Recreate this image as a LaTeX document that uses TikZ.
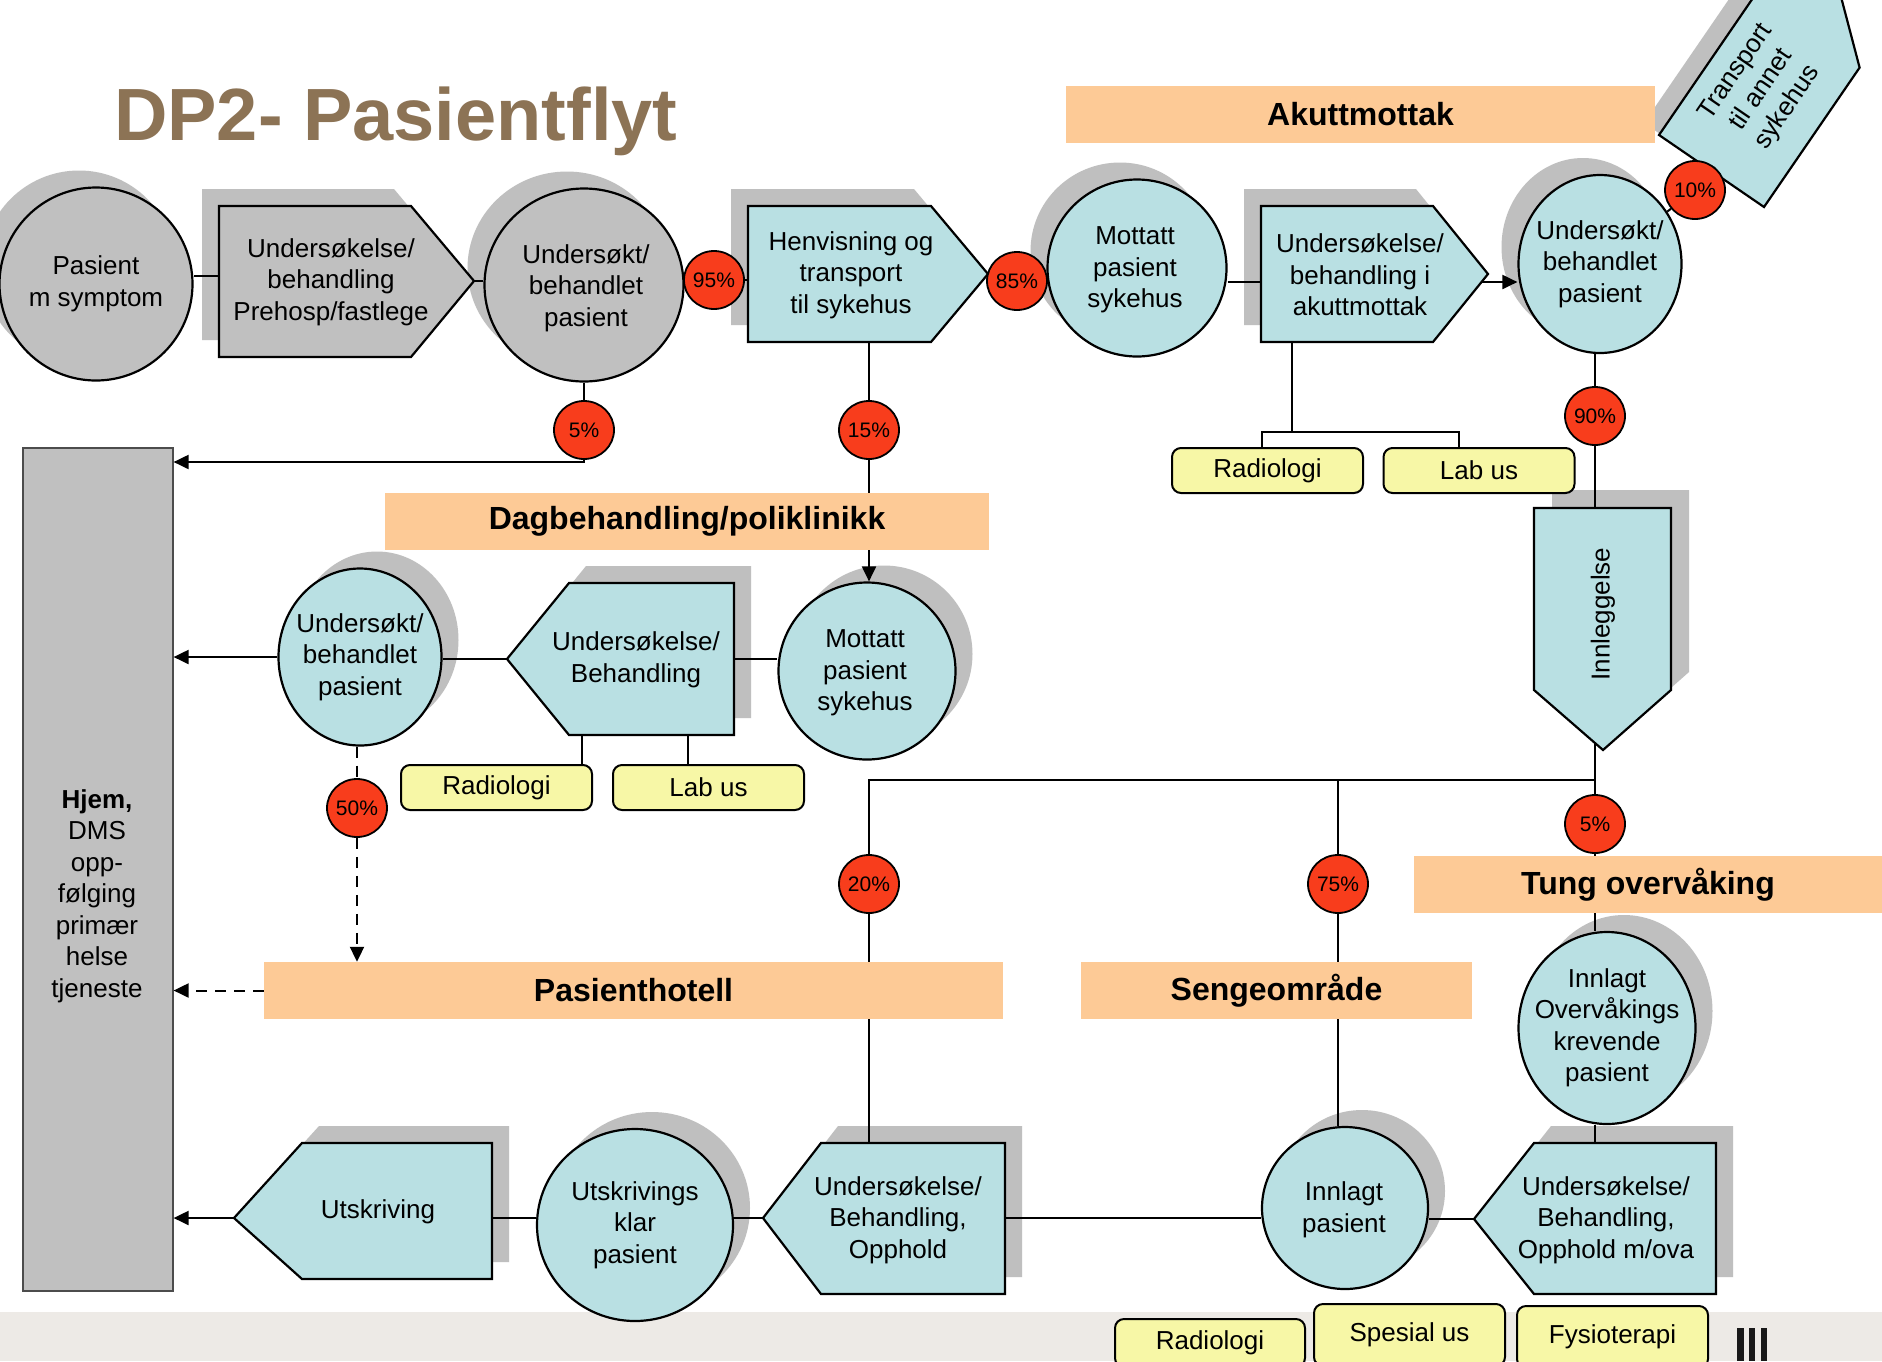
\documentclass[tikz,border=0pt]{standalone}
\usepackage{fontspec}
\setmainfont{Liberation Sans}
\usetikzlibrary{shapes.geometric,shadows,arrows.meta}
\pgfdeclarelayer{back}
\pgfdeclarelayer{front}
\pgfsetlayers{back,main,front}

\definecolor{shgrey}{HTML}{BFBFBF}
\definecolor{boxgrey}{HTML}{C0C0C0}
\definecolor{paleblue}{HTML}{B9E0E3}
\definecolor{banner}{HTML}{FDCA96}
\definecolor{pctred}{HTML}{F83D1C}
\definecolor{labyellow}{HTML}{F7F7A6}
\definecolor{titlebrown}{HTML}{8C7355}
\definecolor{footer}{HTML}{EDEAE6}

\newcommand\bodyfnt{\fontsize{26}{31.5}\selectfont}

\begin{document}
\begin{tikzpicture}[x=1pt,y=-1pt,
  conn/.style={line width=2pt, draw=black},
  arr/.style={-{Triangle[length=15pt,width=14pt]}},
  dsh/.style={dash pattern=on 11pt off 8pt},
  outl/.style={draw=black, line width=2.2pt, line join=miter},
  shUL/.style={general shadow={fill=shgrey, shadow xshift=-17pt, shadow yshift=17pt}},
  shUR/.style={general shadow={fill=shgrey, shadow xshift=17pt, shadow yshift=17pt}},
  bub/.style={ellipse, outl, inner sep=0pt},
  lbl/.style={align=center, font=\bodyfnt, inner sep=0pt},
  pct/.style={ellipse, draw=black, line width=1.8pt, fill=pctred, minimum width=60pt,
    minimum height=58pt, inner sep=0pt, font=\fontsize{21}{24}\selectfont},
  band/.style={rectangle, fill=banner, minimum height=57pt, inner sep=0pt,
    font=\fontsize{32}{38}\selectfont\bfseries},
  lab/.style={rectangle, rounded corners=9pt, draw=black, line width=2pt, fill=labyellow,
    minimum width=191pt, inner sep=0pt, font=\bodyfnt},
]
\useasboundingbox (0,0) rectangle (1882,1361);

\begin{pgfonlayer}{back}
  \fill[white] (0,0) rectangle (1882,1361);
  \fill[footer] (0,1312) rectangle (1882,1361);
  \fill[black!90] (1737,1328) rectangle (1744,1361);
  \fill[black!90] (1749,1328) rectangle (1755,1361);
  \fill[black!90] (1761,1328) rectangle (1767,1361);

  % home / primary care column
  \node[rectangle, fill=boxgrey, draw=black!70, line width=1.2pt, minimum width=150pt,
        minimum height=843pt, inner sep=0pt] (hjem) at (98,869.5) {};

  % states (ellipses)
  \node[bub, fill=boxgrey, shUL, minimum width=193pt, minimum height=193pt] (pas) at (96,284) {};
  \node[bub, fill=boxgrey, shUL, minimum width=199pt, minimum height=193pt] (u1) at (584,285) {};
  \node[bub, fill=paleblue, shUL, minimum width=179pt, minimum height=177pt] (mt) at (1137,268) {};
  \node[bub, fill=paleblue, shUL, minimum width=163pt, minimum height=178pt] (u3) at (1600,264) {};
  \node[bub, fill=paleblue, shUR, minimum width=163pt, minimum height=177pt] (du) at (360,657) {};
  \node[bub, fill=paleblue, shUR, minimum width=177pt, minimum height=177pt] (dm) at (867,671) {};
  \node[bub, fill=paleblue, shUR, minimum width=177pt, minimum height=192pt] (tov) at (1607,1028) {};
  \node[bub, fill=paleblue, shUR, minimum width=166pt, minimum height=162pt] (ip) at (1345,1208) {};
  \node[bub, fill=paleblue, shUR, minimum width=196pt, minimum height=192pt] (uk) at (635,1225) {};

  % activities (pentagons)
  \draw[outl, fill=boxgrey, shUL] (219,206) -- (411,206) -- (474,281) -- (411,357) -- (219,357) -- cycle;
  \coordinate (pre-w) at (219,276);
  \coordinate (pre-tip) at (474,281);

  \draw[outl, fill=paleblue, shUL] (748,206) -- (931,206) -- (988,274) -- (931,342) -- (748,342) -- cycle;
  \coordinate (henv-w) at (748,280);
  \coordinate (henv-s) at (869,342);

  \draw[outl, fill=paleblue, shUL] (1261,206) -- (1433,206) -- (1488,274) -- (1433,342) -- (1261,342) -- cycle;
  \coordinate (akut-w) at (1261,282);
  \coordinate (akut-out) at (1481.5,282);
  \coordinate (akut-b) at (1292,342);

  \draw[outl, fill=paleblue, general shadow={fill=shgrey, shadow xshift=-15pt, shadow yshift=12pt}]
    (1659,135) -- (1764,207) -- (1859.6,67.6) -- (1838.2,-13.8) -- (1754.6,-4.4) -- cycle;
  \coordinate (tr-base) at (1711.5,171);

  \draw[outl, fill=paleblue, general shadow={fill=shgrey, shadow xshift=18pt, shadow yshift=18pt}]
    (1534,508) -- (1671,508) -- (1671,690) -- (1603,750) -- (1534,690) -- cycle;
  \coordinate (inn-top) at (1595,508);
  \coordinate (inn-bot) at (1595,743);

  \draw[outl, fill=paleblue, shUR] (507,659) -- (569,583) -- (734,583) -- (734,735) -- (569,735) -- cycle;
  \coordinate (dub-e) at (734,659);
  \coordinate (dub-tip) at (507,659);
  \coordinate (dub-s1) at (582,735);
  \coordinate (dub-s2) at (688,735);

  \draw[outl, fill=paleblue, shUR] (1474,1219) -- (1534,1143) -- (1716,1143) -- (1716,1294) -- (1534,1294) -- cycle;
  \coordinate (tob-top) at (1595,1143);
  \coordinate (tob-tip) at (1474,1219);

  \draw[outl, fill=paleblue, shUR] (763,1218) -- (821,1143) -- (1005,1143) -- (1005,1294) -- (821,1294) -- cycle;
  \coordinate (ubo-top) at (869,1143);
  \coordinate (ubo-e) at (1005,1218);
  \coordinate (ubo-tip) at (763,1218);

  \draw[outl, fill=paleblue, shUR] (234,1218) -- (302,1143) -- (492,1143) -- (492,1279) -- (302,1279) -- cycle;
  \coordinate (uts-e) at (492,1218);
  \coordinate (uts-tip) at (234,1218);

  % support services
  \node[lab, minimum height=45pt] (rad1) at (1267.5,470.5) {Radiologi};
  \node[lab, minimum height=45pt] (lab1) at (1479,470.5) {Lab us};
  \node[lab, minimum height=45pt] (rad2) at (496.5,787.5) {Radiologi};
  \node[lab, minimum height=45pt] (lab2) at (708.5,787.5) {Lab us};
  \node[lab, minimum height=48pt, minimum width=190pt] (rad3) at (1210,1343) {Radiologi};
  \node[lab, minimum height=62pt] (spes) at (1409.5,1335) {Spesial us};
  \node[lab, minimum height=62pt] (fys) at (1612.5,1337) {Fysioterapi};
\end{pgfonlayer}

\begin{pgfonlayer}{front}
  % department bands
  \node[band, minimum width=589pt] (akb) at (1360.5,114.5) {Akuttmottak};
  \node[band, minimum width=604pt] (dagb) at (687,521.5) {Dagbehandling/poliklinikk};
  \node[band, minimum width=468pt] (tungb) at (1648,884.5) {Tung overvåking};
  \node[band, minimum width=739pt] (hotel) at (633.5,990.5) {Pasienthotell};
  \node[band, minimum width=391pt] (seng) at (1276.5,990.5) {Sengeområde};

  % shares
  \node[pct] (p95) at (714,280) {95\%};
  \node[pct] (p85) at (1017,281) {85\%};
  \node[pct] (p5a) at (584,430) {5\%};
  \node[pct] (p15) at (869,430) {15\%};
  \node[pct] (p10) at (1695,190) {10\%};
  \node[pct] (p90) at (1595,416) {90\%};
  \node[pct] (p50) at (357,808) {50\%};
  \node[pct] (p5b) at (1595,824) {5\%};
  \node[pct] (p20) at (869,884) {20\%};
  \node[pct] (p75) at (1338,884) {75\%};
\end{pgfonlayer}

% helper points for the branching lines
\coordinate (c462) at (584,462);
\coordinate (br) at (1292,432);
\coordinate (rb1) at (1262,448);
\coordinate (rb2) at (1459,448);
\coordinate (split) at (1595,780);

% flow connectors
\draw[conn] (pas.east |- pre-w) -- (pre-w);
\draw[conn] (pre-tip) -- (pre-tip -| u1.west);
\draw[conn] (p95) -- (henv-w);
\draw[conn] (mt.east |- akut-w) -- (akut-w);
\draw[conn, arr] (akut-out) -- (akut-out -| u3.west);
\draw[conn] (u3) -- (p10);
\draw[conn] (p10) -- (tr-base);
\draw[conn] (akut-b) -- (br);
\draw[conn] (rb1) |- (br) -| (rb2);
\draw[conn] (u1) -- (p5a);
\draw[conn, arr] (p5a) |- (hjem.east |- c462);
\draw[conn] (henv-s) -- (p15);
\draw[conn, arr] (p15) -- (p15 |- dm.north);
\draw[conn] (dm.west |- dub-e) -- (dub-e);
\draw[conn] (dub-tip) -- (dub-tip -| du.east);
\draw[conn, arr] (du.west) -- (du.west -| hjem.east);
\draw[conn] (dub-s1) -- (dub-s1 |- rad2.north);
\draw[conn] (dub-s2) -- (dub-s2 |- lab2.north);
\draw[conn, dsh] (du.south -| p50) -- (p50);
\draw[conn, dsh, arr] (p50) -- (p50 |- hotel.north);
\draw[conn, dsh, arr] (hotel.west) -- (hotel.west -| hjem.east);
\draw[conn] (u3.south -| p90) -- (p90);
\draw[conn] (p90) -- (inn-top);
\draw[conn] (inn-bot) -- (p5b);
\draw[conn] (p20) |- (split);
\draw[conn] (p75) -- (p75 |- split);
\draw[conn] (p20) -- (ubo-top);
\draw[conn] (p75) -- (p75 |- ip.north);
\draw[conn] (p5b) -- (p5b |- tov.north);
\draw[conn] (tov.south -| tob-top) -- (tob-top);
\draw[conn] (tob-tip) -- (tob-tip -| ip.east);
\draw[conn] (ip.west |- ubo-e) -- (ubo-e);
\draw[conn] (ubo-tip) -- (ubo-tip -| uk.east);
\draw[conn] (uk.west |- uts-e) -- (uts-e);
\draw[conn, arr] (uts-tip) -- (uts-tip -| hjem.east);

% texts
\node[anchor=base west, inner sep=0pt, text=titlebrown,
      font=\fontsize{74}{80}\selectfont\bfseries] (title) at (114,140) {DP2- Pasientflyt};
\node[lbl] (pas-t) at (pas) {Pasient\\m symptom};
\node[lbl] (u1-t) at (586,288) {Undersøkt/\\behandlet\\pasient};
\node[lbl] (mt-t) at (1135,270) {Mottatt\\pasient\\sykehus};
\node[lbl] (u3-t) at (u3) {Undersøkt/\\behandlet\\pasient};
\node[lbl] (du-t) at (du) {Undersøkt/\\behandlet\\pasient};
\node[lbl] (dm-t) at (865,673) {Mottatt\\pasient\\sykehus};
\node[lbl] (tov-t) at (tov) {Innlagt\\Overvåkings\\krevende\\pasient};
\node[lbl] (ip-t) at (1344,1210) {Innlagt\\pasient};
\node[lbl] (uk-t) at (uk) {Utskrivings\\klar\\pasient};
\node[lbl] (pre-t) at (331,282) {Undersøkelse/\\behandling\\Prehosp/fastlege};
\node[lbl] (henv-t) at (851,275) {Henvisning og\\transport\\til sykehus};
\node[lbl] (akut-t) at (1360,275) {Undersøkelse/\\behandling i\\akuttmottak};
\node[lbl, rotate=55.6] (tr-t) at (1762,90) {Transport\\til annet\\sykehus};
\node[lbl, rotate=90] (inn-t) at (1603,614) {Innleggelse};
\node[lbl] (dub-t) at (636,660) {Undersøkelse/\\Behandling};
\node[lbl] (tob-t) at (1606,1220) {Undersøkelse/\\Behandling,\\Opphold m/ova};
\node[lbl] (ubo-t) at (898,1220) {Undersøkelse/\\Behandling,\\Opphold};
\node[lbl] (uts-t) at (378,1212) {Utskriving};
\node[lbl] (hjem-t) at (97,896) {\textbf{Hjem,}\\DMS\\opp-\\følging\\primær\\helse\\tjeneste};
\end{tikzpicture}
\end{document}
